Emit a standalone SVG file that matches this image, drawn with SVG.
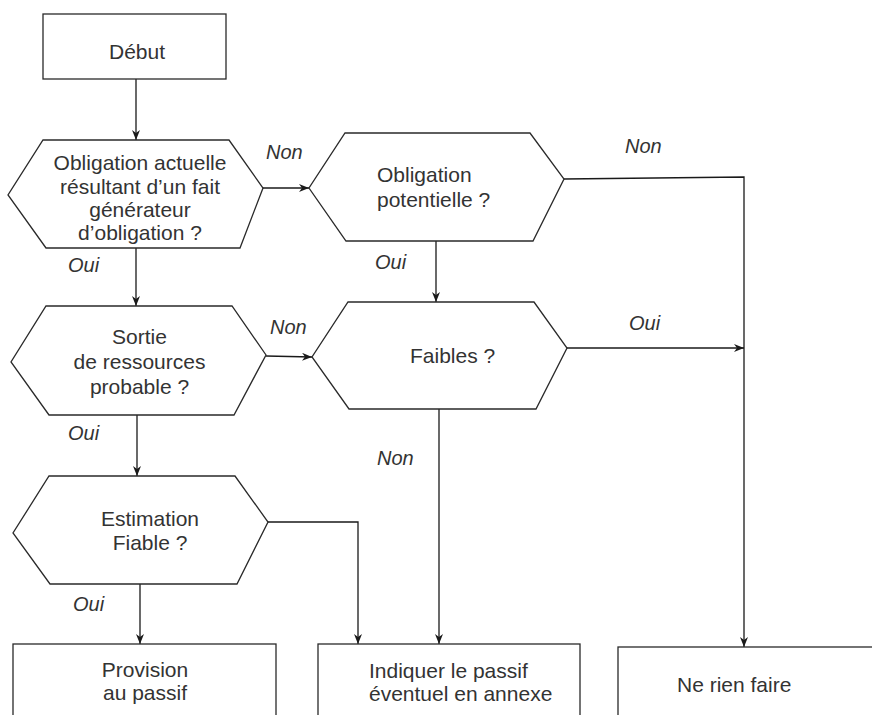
<svg xmlns="http://www.w3.org/2000/svg" width="872" height="715" viewBox="0 0 872 715">
<defs>
<style>
.shape{fill:#fff;stroke:#2a2a2a;stroke-width:1.3}
.conn{fill:none;stroke:#1a1a1a;stroke-width:1.3}
.t{font-family:"Liberation Sans",Arial,sans-serif;font-size:21px;fill:#333}
.c{text-anchor:middle}
.lbl{font-family:"Liberation Sans",Arial,sans-serif;font-size:20px;font-style:italic;fill:#333}
</style>
<marker id="arr" markerWidth="10" markerHeight="8" refX="10" refY="4" orient="auto" markerUnits="userSpaceOnUse">
<path d="M0,0 L10,4 L0,8 L3,4 z" fill="#1a1a1a"/>
</marker>
</defs>
<rect width="872" height="715" fill="#fff"/>

<g id="connectors">
<path class="conn" d="M136,79 L136,140" marker-end="url(#arr)"/>
<path class="conn" d="M263,188 L309,188" marker-end="url(#arr)"/>
<path class="conn" d="M564,179 L744,177 L744,647" marker-end="url(#arr)"/>
<path class="conn" d="M436,241 L436,302" marker-end="url(#arr)"/>
<path class="conn" d="M136,248 L136,306" marker-end="url(#arr)"/>
<path class="conn" d="M266,356 L312,357" marker-end="url(#arr)"/>
<path class="conn" d="M567,348 L744,348" marker-end="url(#arr)"/>
<path class="conn" d="M439,409 L439,644" marker-end="url(#arr)"/>
<path class="conn" d="M137,415 L137,476" marker-end="url(#arr)"/>
<path class="conn" d="M140,584 L140,644" marker-end="url(#arr)"/>
<path class="conn" d="M268,522 L358,522 L358,644" marker-end="url(#arr)"/>
</g>

<g id="labels">
<text class="lbl" x="266" y="159">Non</text>
<text class="lbl" x="625" y="153">Non</text>
<text class="lbl" x="68" y="272">Oui</text>
<text class="lbl" x="375" y="269">Oui</text>
<text class="lbl" x="270" y="334">Non</text>
<text class="lbl" x="629" y="330">Oui</text>
<text class="lbl" x="68" y="440">Oui</text>
<text class="lbl" x="377" y="465">Non</text>
<text class="lbl" x="73" y="611">Oui</text>
</g>

<g id="debut">
<rect class="shape" x="43" y="14" width="183" height="65"/>
<text class="t c" x="137" y="59">Début</text>
</g>

<g id="obligation-actuelle">
<polygon class="shape" points="43,140 229,140 263,188 240,248 46,248 8,195"/>
<text class="t c" x="140" y="170">Obligation actuelle</text>
<text class="t c" x="140" y="194">résultant d’un fait</text>
<text class="t c" x="140" y="217">générateur</text>
<text class="t c" x="140" y="240">d’obligation ?</text>
</g>

<g id="obligation-potentielle">
<polygon class="shape" points="345,133 530,133 564,179 533,241 346,241 309,188"/>
<text class="t" x="377" y="182">Obligation</text>
<text class="t" x="377" y="207">potentielle ?</text>
</g>

<g id="sortie-ressources">
<polygon class="shape" points="46,306 232,306 266,355 234,415 49,415 11,362"/>
<text class="t c" x="139.5" y="344">Sortie</text>
<text class="t c" x="139.5" y="369">de ressources</text>
<text class="t c" x="139.5" y="394">probable ?</text>
</g>

<g id="faibles">
<polygon class="shape" points="348,302 534,302 567,348 536,409 349,409 312,357"/>
<text class="t" x="410" y="363">Faibles ?</text>
</g>

<g id="estimation">
<polygon class="shape" points="49,476 235,476 268,522 237,584 50,584 13,533"/>
<text class="t c" x="150" y="526">Estimation</text>
<text class="t c" x="150" y="550">Fiable ?</text>
</g>

<g id="provision">
<rect class="shape" x="13" y="644" width="263" height="90"/>
<text class="t c" x="145" y="677">Provision</text>
<text class="t c" x="145" y="700">au passif</text>
</g>

<g id="indiquer">
<rect class="shape" x="318" y="644" width="262" height="90"/>
<text class="t" x="369" y="678">Indiquer le passif</text>
<text class="t" x="369" y="701">éventuel en annexe</text>
</g>

<g id="ne-rien-faire">
<rect class="shape" x="618" y="647" width="270" height="90"/>
<text class="t" x="677" y="692">Ne rien faire</text>
</g>
</svg>
